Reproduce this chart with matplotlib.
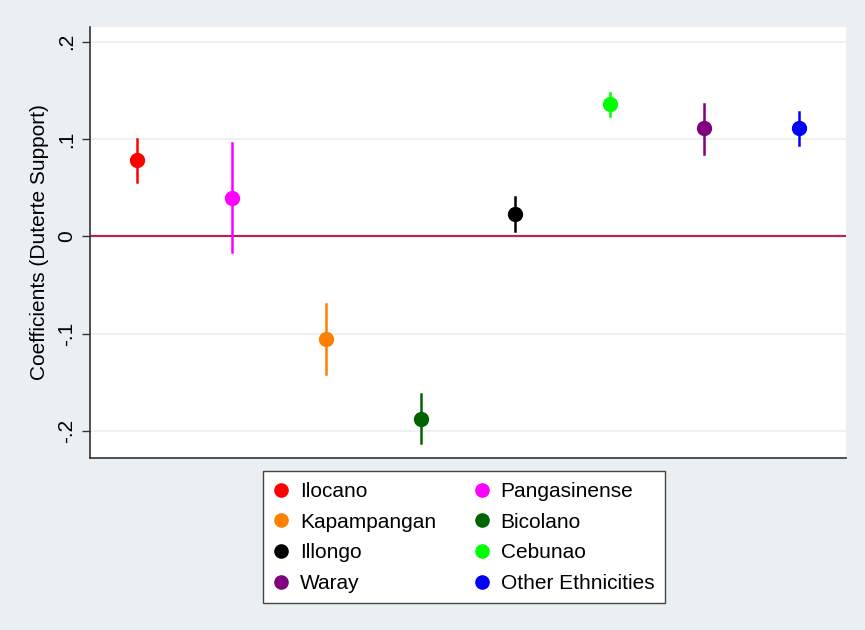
import matplotlib.pyplot as plt

groups = ["Ilocano", "Pangasinense", "Kapampangan", "Bicolano",
          "Illongo", "Cebunao", "Waray", "Other Ethnicities"]
coefs = [0.078, 0.039, -0.106, -0.188, 0.023, 0.136, 0.111, 0.111]
ci_low = [0.056, -0.016, -0.142, -0.213, 0.005, 0.124, 0.085, 0.094]
ci_high = [0.100, 0.096, -0.070, -0.162, 0.040, 0.147, 0.136, 0.128]
colors = ["#ff0000", "#ff00ff", "#ff8000", "#006400",
          "#000000", "#00ff00", "#800080", "#0000ff"]
yticks = [-0.2, -0.1, 0, 0.1, 0.2]
ytick_labels = ["-.2", "-.1", "0", ".1", ".2"]

plt.rcParams["font.family"] = ["Liberation Sans", "DejaVu Sans"]

bg = "#e9eff2"
fig = plt.figure(figsize=(8.65, 6.3), dpi=100, facecolor=bg)
ax = fig.add_axes([0.104, 0.273, 0.874, 0.684])
ax.set_facecolor("white")

for gy in [-0.2, -0.1, 0.1, 0.2]:
    ax.axhline(gy, color="#eeeeee", linewidth=1.2, zorder=0)
ax.axhline(0, color="#b5274f", linewidth=1.6, zorder=1)

handles = {}
for i, name in enumerate(groups):
    x = i + 1
    ax.plot([x, x], [ci_low[i], ci_high[i]], color=colors[i], linewidth=1.8, zorder=2)
    h, = ax.plot(x, coefs[i], "o", color=colors[i], markersize=10, zorder=3,
                 label=name)
    handles[name] = h

ax.set_xlim(0.5, 8.5)
ax.set_ylim(-0.228, 0.215)
ax.set_xticks([])
ax.set_yticks(yticks)
ax.set_yticklabels(ytick_labels, rotation=90, va="center", fontsize=15)
ax.tick_params(axis="y", length=6, width=1, color="#333333", pad=4)
ax.set_ylabel("Coefficients (Duterte Support)", fontsize=15, labelpad=6)

for side in ["top", "right"]:
    ax.spines[side].set_visible(False)
for side in ["left", "bottom"]:
    ax.spines[side].set_color("#333333")
    ax.spines[side].set_linewidth(1.2)

order = ["Ilocano", "Kapampangan", "Illongo", "Waray",
         "Pangasinense", "Bicolano", "Cebunao", "Other Ethnicities"]
leg = fig.legend([handles[n] for n in order], order, ncol=2,
                 loc="center", bbox_to_anchor=(0.536, 0.147),
                 fontsize=15, frameon=True, fancybox=False,
                 edgecolor="#444444", facecolor="white", framealpha=1,
                 handlelength=0.8, handletextpad=0.5, columnspacing=1.8,
                 labelspacing=0.56, borderpad=0.5, markerscale=0.95)
leg.get_frame().set_linewidth(1.0)

fig.savefig("out.png", dpi=100, facecolor=bg)
